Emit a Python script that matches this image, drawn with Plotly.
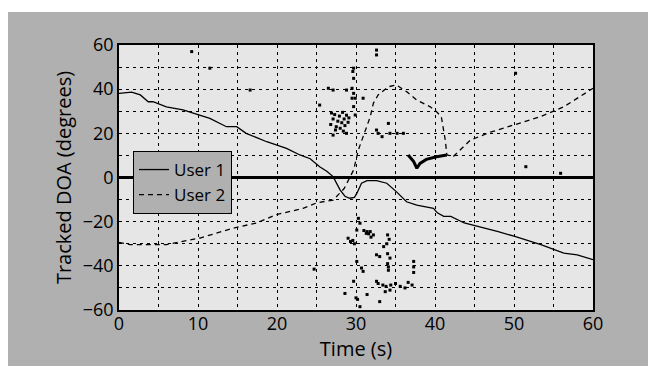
import plotly.graph_objects as go

# ---- data ----
user1_t = [0, 1.6, 2.7, 3.7, 4.3, 6, 8.1, 10.3, 11.5, 13.6, 14.9, 16.1, 18.7, 21.2, 22.9, 24.2,
           25.4, 26.3, 27.1, 28.0, 28.6, 29.2, 29.8, 30.1, 30.7, 31.4, 32.6, 33.9, 35.1, 36.4,
           37.7, 39.8, 40.3, 41.1, 42.0, 43.7, 45.4, 48.0, 50.0, 53.4, 56.3, 58.0, 60]
user1_d = [38.1, 38.7, 37.4, 34.3, 34.3, 32, 30.6, 28.3, 26.8, 23, 23, 20, 16.2, 13.2, 10.2, 8.5,
           4.9, 2.8, 0.4, -5.7, -8.5, -9.4, -9, -7.2, -2.6, -1.4, -1.4, -2.6, -6.4, -11,
           -12.5, -14, -16, -17.6, -17.6, -20.6, -22.1, -24.5, -26.6, -30.4, -34.2, -35, -37.2]

user2_t = [0, 1.4, 6, 10.25, 14.5, 17.4, 19.9, 23.3, 25, 27.1, 28.5, 29.7, 30.3, 31.1, 31.8,
           32.2, 32.8, 34.1, 35.1, 36.4, 37.7, 39.4, 40.2, 40.8, 41.0, 41.3, 41.5, 42.3, 44.5,
           47, 50, 53.3, 56.3, 60]
user2_d = [-29.4, -30.4, -30.4, -27.4, -22.9, -20.6, -16.8, -14, -11.5, -10.2, -5, 3.4, 12.5, 20,
           27.5, 33.6, 37.4, 41.1, 41.9, 38.9, 35, 32, 29.8, 27.5, 23, 17, 10.2, 9.4, 17,
           20.5, 23.8, 27.5, 32, 40.4]

track3_t = [36.6, 37.3, 37.7, 38.1, 38.9, 40.2, 41.5]
track3_d = [10.2, 7.2, 4.2, 6.4, 8.2, 9.4, 10.2]

noise_t = [9.2, 11.5, 16.6, 32.6, 32.6, 50.2, 51.5, 55.9, 24.7,
           29.7, 29.6, 29.7, 26.5, 27.1, 28.8, 29.5, 29.7, 29.5, 29.9, 30.9, 29.7, 29.9, 25.4,
           26.8, 27.1, 27.3, 27.5, 27.7, 27.9, 28.0, 28.2, 28.3, 28.5, 28.6, 28.8, 29.0, 29.1,
           27.4, 28.4, 26.9,
           27.1, 28.8, 32.6, 32.8, 34.1, 34.3, 35.2, 36.0, 33.3,
           30.3, 30.5, 30.1, 31.0, 31.4, 31.8, 31.6, 32.2, 31.9, 31.3,
           29.0, 29.3, 29.6, 29.8,
           34.0, 34.2, 33.9, 33.5,
           32.6, 33.0, 34.0, 34.3,
           34.0, 34.1, 34.1,
           30.1, 30.7, 30.9,
           37.3, 37.3, 37.3,
           29.7, 32.6, 32.8, 33.4, 33.8, 34.4, 35.0, 35.6, 36.2, 36.6, 37.1,
           33.7, 34.3, 28.6, 30.0, 30.2, 33.0, 30.5, 31.4]
noise_d = [57, 49.5, 39.6, 57.7, 55.5, 47.2, 4.9, 1.9, -41.5,
           49.5, 48, 44.9, 40.4, 39.6, 39.6, 40.4, 38.1, 35.9, 35.9, 35.9, 32.1, 28.3, 32.8,
           24, 26.5, 28.5, 23, 25.5, 27.8, 22.3, 24.8, 29.5, 26.5, 23.5, 28.2, 25, 27,
           21.5, 21, 29.2,
           19.2, 20, 21.5, 20, 24.5, 20, 20, 20, 18.5,
           -18.5, -20.7, -23.8, -24, -24.5, -24.5, -25.5, -26, -27, -25.3,
           -27.5, -29, -28.5, -30,
           -26, -28, -30, -31.3,
           -35, -35.8, -34.5, -36.5,
           -39, -40.5, -42,
           -38, -41, -42.5,
           -38, -40.5, -43,
           -47, -47, -48, -48.7, -49.3, -48.7, -48, -49.3, -50, -47.5, -48.7,
           -51.7, -51, -52.5, -54.5, -55.2, -56.2, -58.5, -53]

x_ticks = [0, 10, 20, 30, 40, 50, 60]
y_ticks = [-60, -40, -20, 0, 20, 40, 60]

FONT = "Open Sans"
OUTER = "#b0b0b0"
INNER = "#e6e6e6"

fig = go.Figure()
fig.add_trace(go.Scatter(x=noise_t, y=noise_d, mode="markers", showlegend=False,
                         marker=dict(symbol="square", size=3, color="black", line=dict(width=0))))
fig.add_trace(go.Scatter(x=track3_t, y=track3_d, mode="lines", showlegend=False,
                         line=dict(color="black", width=3)))
fig.add_trace(go.Scatter(x=user1_t, y=user1_d, mode="lines", name="User 1",
                         line=dict(color="black", width=1.3)))
fig.add_trace(go.Scatter(x=user2_t, y=user2_d, mode="lines", name="User 2",
                         line=dict(color="black", width=1.3, dash="5px,4px")))

# gray halftone-like panel and lighter plotting area
fig.add_shape(type="rect", xref="paper", yref="paper",
              x0=(8 - 119) / 474, x1=(648 - 119) / 474 + 0.01,
              y0=(310 - 372) / 265, y1=(310 - 12) / 265,
              fillcolor=OUTER, line=dict(width=0), layer="below")
fig.add_shape(type="rect", xref="paper", yref="paper", x0=0, x1=1, y0=0, y1=1,
              fillcolor=INNER, line=dict(width=0), layer="below")

grid = dict(showgrid=True, gridcolor="black", gridwidth=1, griddash="3px,4px")

fig.update_layout(
    width=648, height=366,
    margin=dict(l=119, r=55, t=45, b=56),
    paper_bgcolor="white", plot_bgcolor=INNER,
    font=dict(family=FONT, size=18, color="black"),
    showlegend=True,
    legend=dict(x=(133 - 119) / 474, y=(310 - 151) / 265, xanchor="left", yanchor="top",
                bgcolor=OUTER, bordercolor="black", borderwidth=1,
                font=dict(family=FONT, size=17), tracegroupgap=0,
                itemwidth=30),
    xaxis=dict(range=[0, 60], tickvals=x_ticks, ticks="", **grid,
               minor=dict(dtick=5, showgrid=True, gridcolor="black", gridwidth=1, griddash="3px,4px"),
               showline=True, linecolor="black", linewidth=1.5, mirror=True,
               zeroline=False, ticklabelstandoff=-3,
               title=dict(text="Time (s)", font=dict(size=20, family=FONT), standoff=0),
               tickfont=dict(size=18)),
    yaxis=dict(range=[-60, 60], tickvals=y_ticks, ticks="", **grid,
               minor=dict(dtick=10, showgrid=True, gridcolor="black", gridwidth=1, griddash="3px,4px"),
               showline=True, linecolor="black", linewidth=1.5, mirror=True,
               zeroline=True, zerolinecolor="black", zerolinewidth=3,
               title=dict(text="Tracked DOA (degrees)", font=dict(size=20, family=FONT), standoff=6),
               tickfont=dict(size=18)),
)

fig.write_html("out.html")
